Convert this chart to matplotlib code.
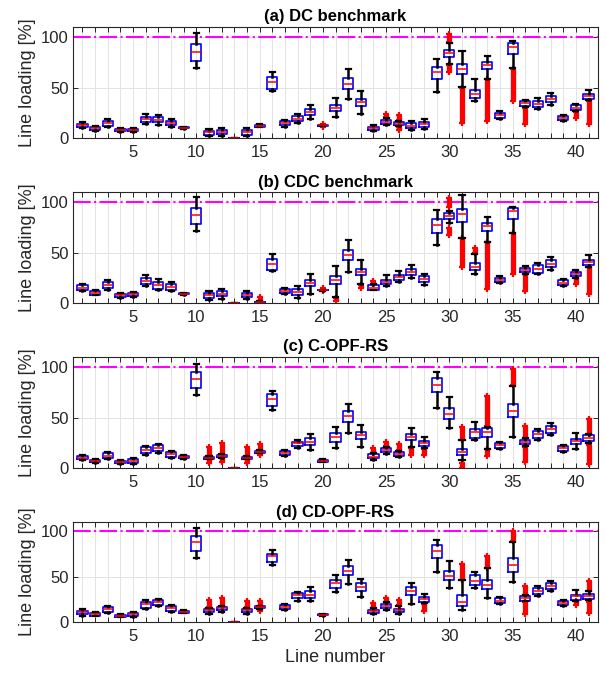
import matplotlib
matplotlib.use("Agg")
import matplotlib.pyplot as plt
from matplotlib.ticker import MultipleLocator, FixedLocator

plt.rcParams['font.family'] = ['Liberation Sans', 'DejaVu Sans']

lines = list(range(1, 42))

# ---------------- (a) DC benchmark ----------------
dc_wlo = [10, 6.5, 11, 5.5, 6, 14, 13, 11, 9, 69, 1.5, 1.5, 0, 1.5, 10.5, 46.5, 11, 14.5, 18.5, 12,
          21, 38.5, 23.5, 6.5, 13, 11.5, 8, 8.5, 46, 73.5, 50.5, 36.5, 58.6, 19.3, 69, 30.3, 28.3, 32.6, 16.5, 26.5, 37.5]
dc_q1 = [11, 8, 12, 6.5, 6.5, 15.5, 15.5, 12.5, 9.5, 76, 3, 3.5, 0, 3, 11, 49, 12.5, 16.5, 22.5, 12.2,
         26.5, 49, 32, 8, 14, 12.5, 9.5, 11, 58, 80, 63, 40, 68, 20.3, 83.5, 31.6, 30.5, 35.5, 17.8, 27.8, 39]
dc_med = [12.5, 9.5, 14.5, 7.5, 7.5, 18.5, 18, 15, 10, 85, 6, 6, 0, 5.5, 12, 55.5, 14.5, 19, 26, 12.5,
          30, 54, 36, 9.5, 16, 14, 12, 14, 65, 83.8, 68.5, 44, 72.5, 22.7, 90, 34.2, 34, 38.8, 19.7, 30, 41.7]
dc_q3 = [14, 11, 17, 9, 9, 21, 20.5, 17, 10.5, 92.7, 7, 8, 0, 7.5, 13, 60, 16.5, 21.5, 29, 12.8,
         33, 59, 39, 11, 17.5, 15.5, 14.5, 16, 70.5, 87.3, 73.5, 47.5, 75.8, 25.2, 94, 36.5, 36.6, 42, 21.7, 32.3, 43.7]
dc_whi = [16, 12, 18.5, 10, 9.5, 23.5, 23, 18.5, 11, 104, 8.5, 10, 0, 9.5, 13.5, 65.5, 17.5, 23.5, 33, 13,
          40, 68, 46.5, 12.5, 19.5, 17, 17, 19, 78, 94.5, 86.5, 58.6, 81.5, 26.5, 96, 37.5, 39.5, 45, 23, 34, 48]
dc_out_line = [20, 25, 26, 26, 30, 30, 31, 33, 35, 36, 40, 41]
dc_out_lo = [11.2, 20.5, 17.5, 8, 95.5, 65, 14.5, 16.5, 36.5, 14, 19.5, 14]
dc_out_hi = [14.3, 24, 23, 11, 103, 72.5, 50, 58, 68.5, 29.5, 25.5, 37]

# ---------------- (b) CDC benchmark ----------------
cdc_wlo = [11.3, 7.3, 13, 5, 5.7, 16.3, 12.3, 11.7, 8, 71.3, 3, 3.7, 0, 3.3, 0, 31.3, 9, 5, 9, 12,
           5.7, 30.7, 19, 12.3, 16.3, 20.7, 24.7, 18, 57.3, 79, 64, 29, 60.7, 19.7, 69, 29, 28.5, 33, 16.3, 25, 35.7]
cdc_q1 = [12.3, 8, 14.7, 5.7, 6.3, 18.3, 14, 13, 8.5, 78, 5, 6.3, 0, 5.7, 0.2, 33, 9.7, 7.3, 16.3, 12.2,
          18.3, 43, 27.3, 13, 18.3, 23, 27.3, 20.7, 69, 83, 80.7, 32.3, 71.3, 20.7, 83, 30.3, 30, 35.5, 17.3, 26.5, 37.3]
cdc_med = [14.7, 9.7, 17.3, 7.3, 8.3, 21.7, 17.3, 15.7, 9, 87.3, 8, 9, 0, 7.7, 0.5, 38.3, 11.7, 10.7, 19.7, 12.5,
           23, 48, 30.7, 15, 20.7, 25.3, 30.3, 23.7, 77.3, 86, 88, 36, 76.2, 23, 91, 32.6, 34, 39, 20, 28.6, 40.3]
cdc_q3 = [17.3, 11.3, 20.7, 9, 9.7, 25, 20.7, 18.3, 9.5, 94.7, 9.7, 11.3, 0, 9.7, 1, 43.3, 14, 14, 23, 12.8,
          26.3, 53, 34, 17.3, 23, 27.3, 33.3, 26.3, 83.3, 89, 93, 39.3, 79.7, 25, 94.7, 34.8, 37.3, 42.5, 22.3, 31, 42.5]
cdc_whi = [19, 12.3, 22.3, 9.7, 10.3, 27.3, 24, 20.7, 9.7, 105.7, 11.7, 13.7, 0, 11.7, 1.5, 48.3, 15, 16.3, 28.3, 13,
           36.3, 62.3, 43, 18.3, 27.3, 31.7, 37.3, 29, 92.3, 91.3, 107.3, 49, 85, 26.5, 95.7, 36.3, 40, 45.7, 23.7, 33, 47.3]
cdc_out_line = [15, 20, 21, 23, 24, 30, 30, 31, 32, 33, 35, 36, 40, 41]
cdc_out_lo = [2, 11.5, 2, 14.5, 19, 95.7, 67.3, 35.7, 49.5, 14, 29, 11.3, 18.5, 9]
cdc_out_hi = [5.5, 14.7, 5, 18, 21.7, 104, 74.7, 64, 54.7, 60.7, 69, 29, 24.7, 35.7]

# ---------------- (c) C-OPF-RS ----------------
copf_wlo = [8, 5.2, 9, 4.6, 4.6, 13, 15.4, 10.5, 9.5, 72, 9, 10.3, 0, 9, 15, 57.4, 12.1, 19.7, 18, 6,
            19.7, 35, 20.7, 8.2, 14.1, 10.8, 20.7, 19.7, 59.6, 40, 8, 27.7, 19.5, 19.5, 31, 21.5, 28.3, 32.6, 16.3, 18.6, 24.5]
copf_q1 = [9, 6, 10.5, 5.2, 5.6, 14.8, 17, 11.5, 10.2, 79.3, 9.5, 10.8, 0, 9.5, 15.4, 61.3, 13, 22, 23, 6.6,
           26.2, 45.9, 28.9, 9.8, 16.4, 12.5, 27.9, 22.3, 74.9, 48.9, 12.7, 30.3, 31, 20.5, 50.5, 23.8, 30.3, 34.9, 17.3, 24.4, 27]
copf_med = [10.5, 7.2, 12.5, 6.2, 7.2, 18, 20.3, 14, 11.5, 88.5, 10.5, 12.1, 0, 10.5, 16.4, 68.2, 15.4, 24.6, 26.2, 7.5,
            30.5, 51.5, 32.8, 11.5, 18, 14.1, 30.8, 24.6, 82.4, 53.7, 16, 35.8, 35.8, 22.8, 56, 26, 33.6, 38.8, 19.9, 27, 30]
copf_q3 = [12, 8.5, 14.8, 7.2, 8.9, 20.7, 22.6, 16.4, 12.5, 95, 11.5, 13.4, 0, 11.5, 17.4, 73, 17, 26.2, 29.5, 8.5,
           34.4, 56.4, 36, 13.8, 19.7, 15.7, 33.8, 27.2, 88.6, 59.6, 19.2, 39, 40, 25, 63.5, 28.3, 36.5, 41.4, 21.8, 29.3, 32.6]
copf_whi = [13, 9, 16, 7.9, 9.8, 22, 24, 17.4, 13.1, 103, 12, 14, 0, 12, 18, 76, 18, 27.9, 33.4, 9,
            41, 63.3, 42.6, 14.8, 21.3, 17.4, 39.3, 30.5, 95.4, 70.7, 27.7, 45.6, 41, 26, 81.4, 29.8, 39, 44.6, 22.8, 34.9, 33.8]
copf_out_line = [11, 11, 12, 12, 14, 14, 15, 15, 24, 25, 26, 27, 28, 31, 31, 33, 33, 35, 36, 36, 41, 41]
copf_out_lo = [5, 12.2, 6.6, 14.5, 5, 12.2, 13, 18.3, 15.3, 21.8, 17.9, 13, 13, 28.2, 0, 41.5, 12, 82, 30.3, 6.5, 34.2, 4.2]
copf_out_hi = [8.8, 21.3, 10, 24.6, 8.8, 21.3, 14.8, 23.6, 19.7, 26.2, 24, 20.2, 19.2, 40.7, 5, 71.7, 19, 97.7, 41.4, 21.2, 48.9, 22.8]

# ---------------- (d) CD-OPF-RS ----------------
cdopf_wlo = [6.6, 5.9, 9.2, 4.8, 5.2, 13.6, 16.9, 10.3, 9.2, 71, 8.8, 11, 0, 8.8, 14.3, 62.5, 12.9, 22.8, 23.2, 6.8,
             33, 41.2, 26.8, 8.1, 12.9, 8.1, 19.5, 20.2, 55.3, 37.1, 13.5, 37.1, 26.2, 19.6, 44.4, 22.5, 28.7, 33.5, 17.1, 23.3, 24.4]
cdopf_q1 = [8.1, 6.6, 10.3, 5.5, 6.3, 14.7, 18.4, 11.8, 9.9, 78.3, 11, 12.9, 0, 11, 14.7, 66.2, 14, 25.7, 25.7, 7.2,
            37.5, 51.5, 34.2, 9.9, 14.7, 10.3, 29.4, 22, 70.9, 45.8, 17.5, 40.7, 36.4, 20.7, 55.3, 23.3, 30.9, 36, 18.2, 24.4, 25.5]
cdopf_med = [10.3, 8.1, 13.6, 6.6, 8.1, 19.1, 21.3, 14.7, 11, 87.9, 12.9, 14.7, 0, 12.5, 15.8, 72.4, 16.2, 29, 29.4, 7.7,
             42.3, 56.2, 38.2, 11.8, 17.3, 12.5, 33.8, 24.6, 78.2, 50.5, 21.5, 45.5, 40.7, 23.3, 62.5, 26.2, 34.5, 39.6, 20.7, 28, 28.4]
cdopf_q3 = [11.8, 9.6, 16.2, 7.7, 9.6, 22, 23.9, 17.3, 12.1, 94.8, 14.3, 16.2, 0, 14, 16.9, 74.6, 18.4, 31.3, 33.8, 8.2,
            46.3, 61.4, 42.3, 12.9, 19.1, 14, 37.9, 27.2, 84.4, 56, 29.8, 51.6, 46.2, 26.2, 70.5, 28, 37.8, 42.5, 22.5, 29.8, 30.9]
cdopf_whi = [13.6, 10.3, 17.3, 8.5, 10.7, 23.5, 25.4, 18.4, 12.9, 103.7, 15.4, 17.3, 0, 15.4, 17.3, 79, 19.9, 33, 38.6, 8.6,
             51.5, 68, 47, 14.7, 21.3, 17.6, 43, 30.9, 90.9, 67.3, 46, 55.3, 58.9, 27.3, 88.7, 29.5, 40, 45.5, 23.6, 35.3, 33.5]
cdopf_out_line = [11, 12, 14, 15, 15, 24, 25, 26, 28, 31, 33, 35, 36, 36, 40, 41, 41]
cdopf_out_lo = [15.9, 17.8, 15.9, 11.8, 17.8, 15.2, 21.8, 18, 11.8, 46.5, 59.4, 89.2, 30, 8.7, 18.2, 34, 9.8]
cdopf_out_hi = [23.9, 26.5, 23.2, 14, 23.2, 20.2, 25.7, 23.9, 19.8, 63.3, 72.7, 100.7, 39.6, 21.8, 22.8, 45.5, 21.8]

titles = ["(a) DC benchmark", "(b) CDC benchmark", "(c) C-OPF-RS", "(d) CD-OPF-RS"]
panels = [
    (dc_wlo, dc_q1, dc_med, dc_q3, dc_whi, dc_out_line, dc_out_lo, dc_out_hi),
    (cdc_wlo, cdc_q1, cdc_med, cdc_q3, cdc_whi, cdc_out_line, cdc_out_lo, cdc_out_hi),
    (copf_wlo, copf_q1, copf_med, copf_q3, copf_whi, copf_out_line, copf_out_lo, copf_out_hi),
    (cdopf_wlo, cdopf_q1, cdopf_med, cdopf_q3, cdopf_whi, cdopf_out_line, cdopf_out_lo, cdopf_out_hi),
]
limit_value = 100

W, H = 606, 673
fig = plt.figure(figsize=(W / 100, H / 100), dpi=100)
# (top, bottom) pixel rows of each panel
rows = [(27, 138), (192.3, 302.7), (356.7, 468.3), (522.3, 621.7)]
left_px, right_px = 73, 598

tick_col = '#262626'
for k, (title, data) in enumerate(zip(titles, panels)):
    top, bot = rows[k]
    ax = fig.add_axes([left_px / W, 1 - bot / H, (right_px - left_px) / W, (bot - top) / H])
    wlo, q1, med, q3, whi, oline, olo, ohi = data
    stats = []
    for i in range(len(lines)):
        stats.append(dict(med=med[i], q1=q1[i], q3=q3[i], whislo=wlo[i], whishi=whi[i], fliers=[]))
    ax.bxp(stats, positions=lines, widths=0.8, capwidths=0.4, showfliers=False,
           boxprops=dict(color='#0000FF', linewidth=1.2),
           medianprops=dict(color='#FF0000', linewidth=1.1),
           whiskerprops=dict(color='black', linewidth=1.8, linestyle='-'),
           capprops=dict(color='black', linewidth=1.6), zorder=3)
    # outliers (dense red '+' markers forming bars)
    ax.vlines(oline, olo, ohi, color='#FF0000', linewidth=3.8, zorder=2.5)
    ax.plot(oline + oline, list(olo) + list(ohi), linestyle='none', marker='+',
            color='#FF0000', markersize=5, markeredgewidth=1.6, zorder=2.5)
    ax.axhline(limit_value, color='#FF00FF', linewidth=1.5, linestyle=(0, (8.5, 1.6, 1, 1.6)), zorder=2)

    ax.set_xlim(0.25, 41.75)
    ax.set_ylim(0, 110)
    ax.xaxis.set_major_locator(FixedLocator([5, 10, 15, 20, 25, 30, 35, 40]))
    ax.xaxis.set_minor_locator(MultipleLocator(1))
    ax.set_xticklabels(['5', '10', '15', '20', '25', '30', '35', '40'])
    ax.set_yticks([0, 50, 100])
    ax.grid(True, which='both', axis='x', color='#e3e3e3', linewidth=0.7, zorder=0)
    ax.grid(True, which='major', axis='y', color='#e3e3e3', linewidth=0.7, zorder=0)
    ax.set_axisbelow(True)
    ax.tick_params(which='both', direction='in', top=True, right=True, length=3.5,
                   width=0.7, color=tick_col, labelcolor=tick_col, labelsize=12)
    ax.tick_params(axis='x', which='both', pad=5)
    ax.tick_params(axis='y', which='both', pad=3)
    for s in ax.spines.values():
        s.set_color(tick_col)
        s.set_linewidth(0.8)
    ax.set_title(title, fontsize=12, fontweight='bold', pad=4, color='black')
    ax.set_ylabel('Line loading [%]', fontsize=13, color=tick_col)
    ax.yaxis.set_label_coords(-46 / (right_px - left_px), 0.5)
    ax.yaxis.label.set_va('center')
    if k == 3:
        ax.set_xlabel('Line number', fontsize=13, color=tick_col, labelpad=4)

fig.savefig('out.png', dpi=100)
